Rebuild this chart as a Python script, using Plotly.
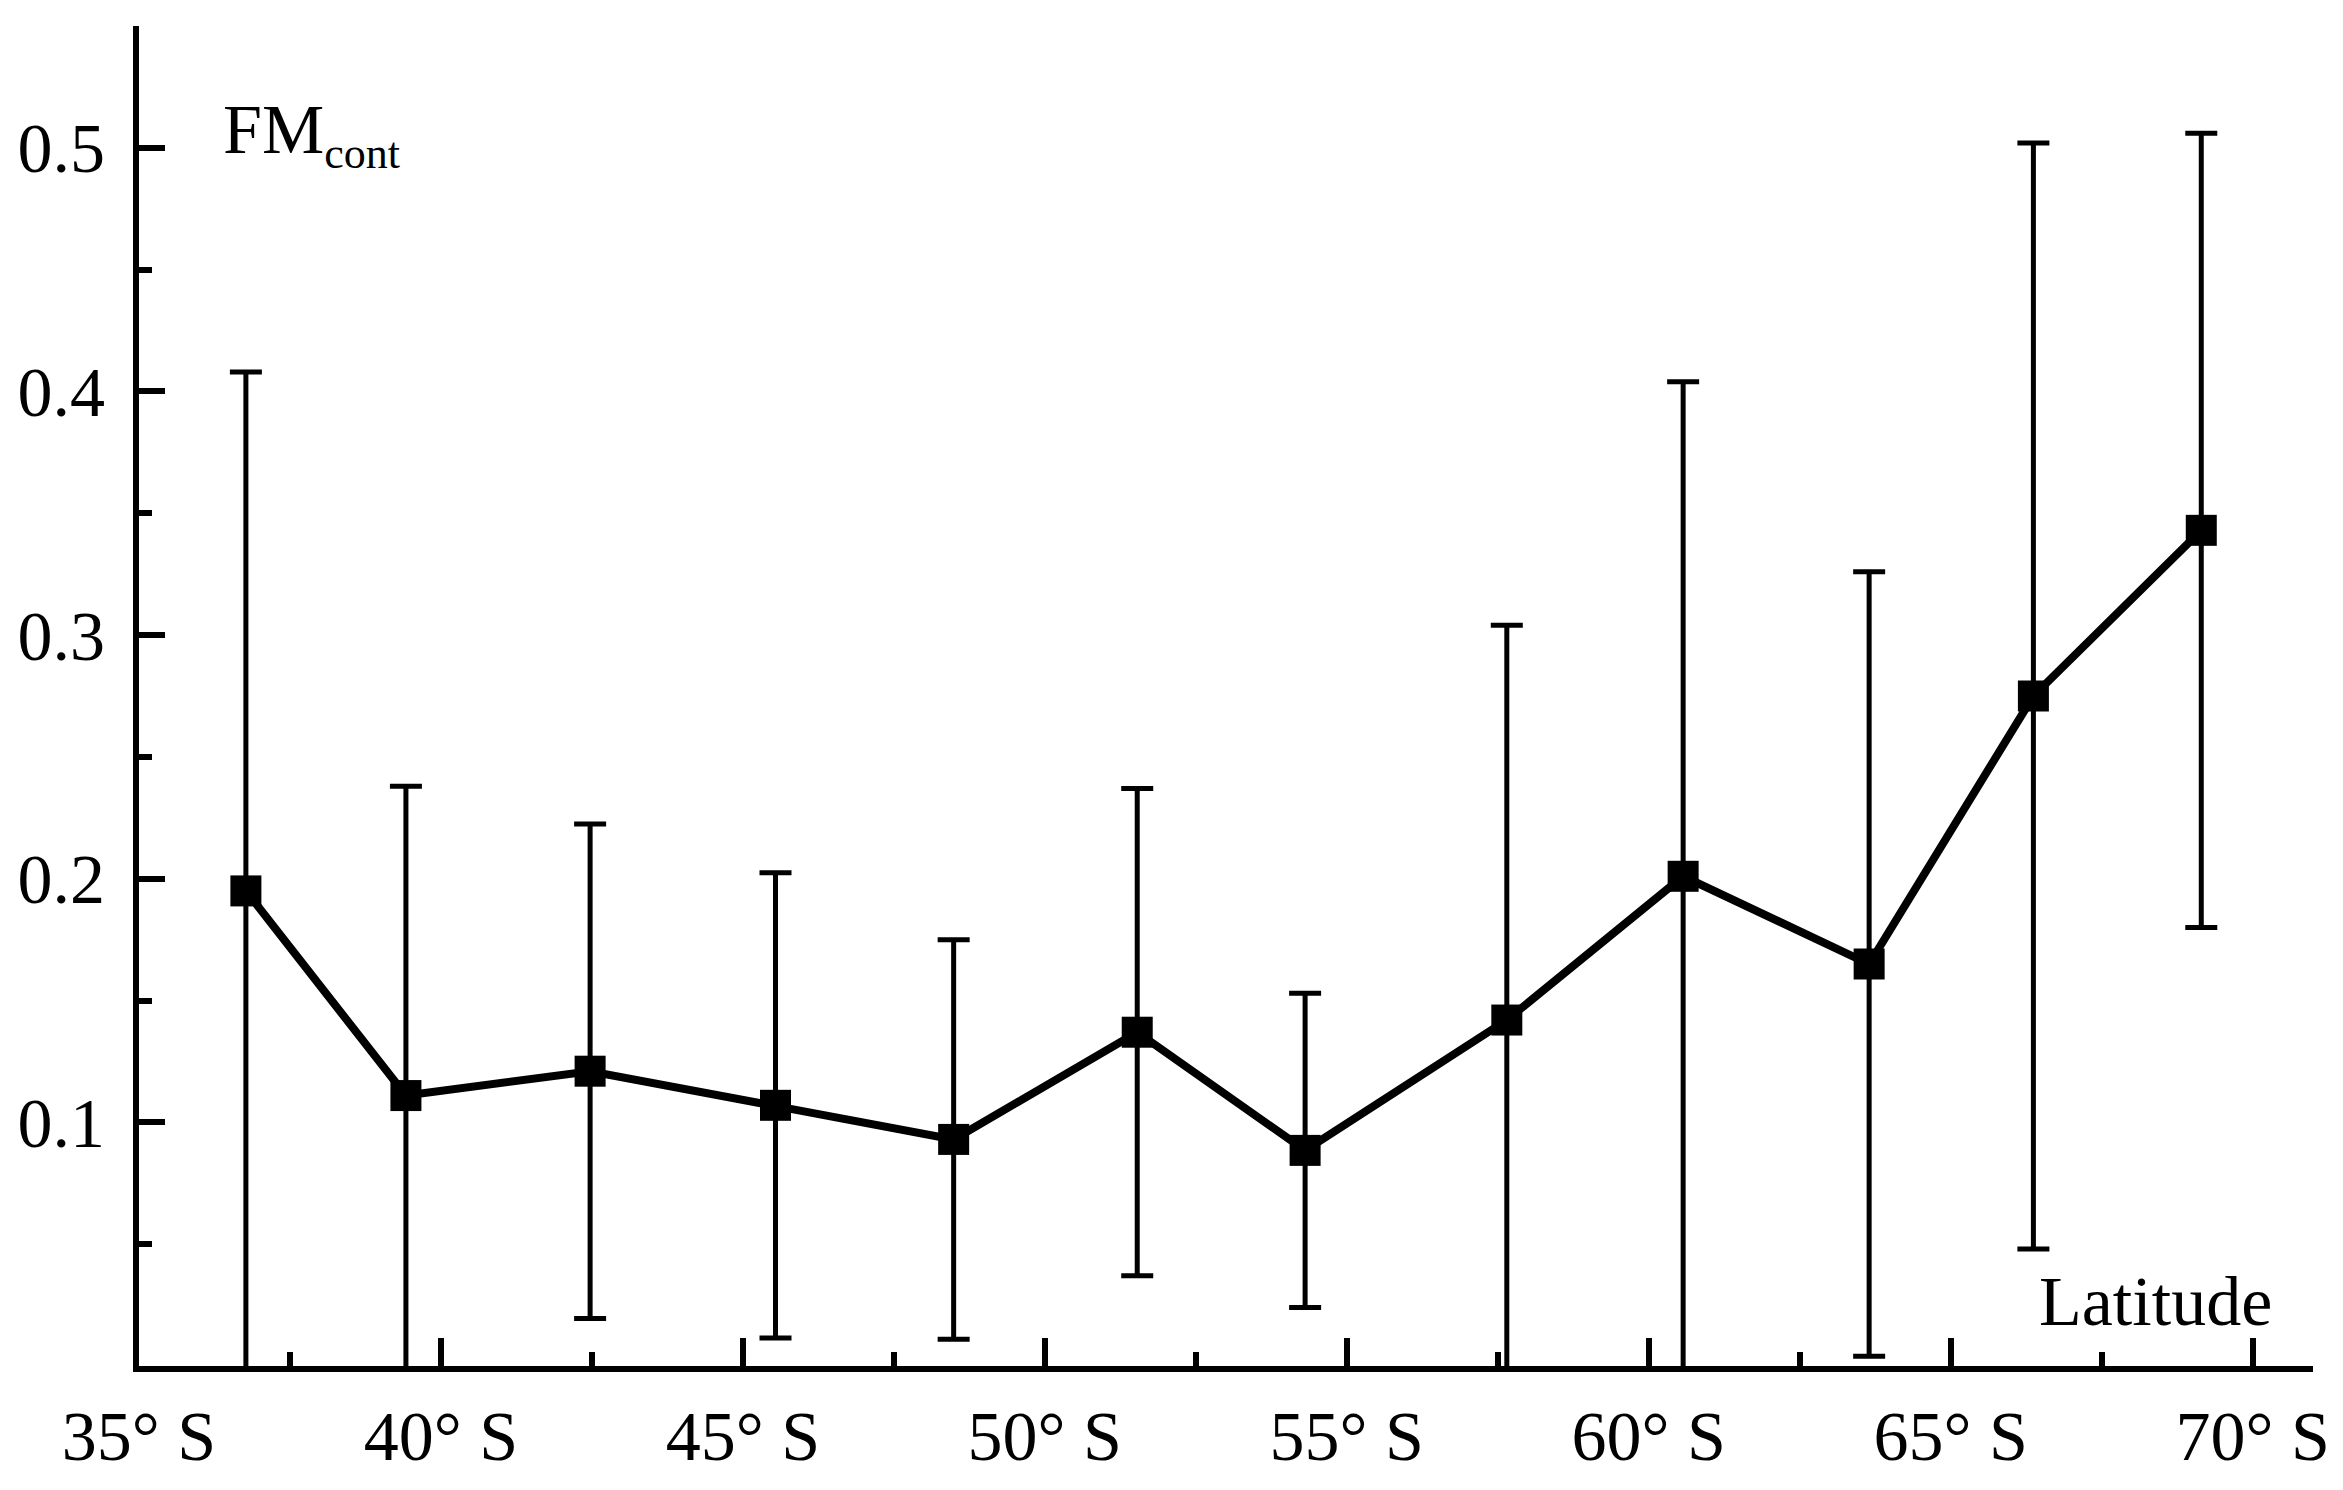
import plotly.graph_objects as go

# Data
latitude = [36.77, 39.42, 42.47, 45.54, 48.49, 51.53, 54.31, 57.65, 60.57, 63.65, 66.37, 69.15]
fm_cont = [0.195, 0.111, 0.121, 0.107, 0.093, 0.137, 0.0885, 0.142, 0.201, 0.165, 0.275, 0.343]
fm_err = [0.213, 0.127, 0.1015, 0.0955, 0.082, 0.100, 0.0645, 0.162, 0.203, 0.161, 0.227, 0.163]

x_tickvals = [35, 40, 45, 50, 55, 60, 65, 70]
x_ticktext = ["35° S", "40° S", "45° S", "50° S", "55° S", "60° S", "65° S", "70° S"]
y_tickvals = [0.1, 0.2, 0.3, 0.4, 0.5]
y_ticktext = ["0.1", "0.2", "0.3", "0.4", "0.5"]

FONT = "Liberation Serif"

fig = go.Figure()
fig.add_trace(go.Scatter(
    x=latitude, y=fm_cont, mode="lines+markers",
    line=dict(color="black", width=8),
    marker=dict(symbol="square", size=31, color="black"),
    error_y=dict(type="data", array=fm_err, visible=True,
                 color="black", thickness=5, width=16),
    showlegend=False,
))

# page body has an 8px default margin; figure is sized/margined to compensate
fig.update_layout(
    width=2327, height=1474,
    margin=dict(l=131, r=22, t=18, b=116),
    paper_bgcolor="white", plot_bgcolor="white",
    font=dict(family=FONT, size=70, color="black"),
    xaxis=dict(
        range=[35, 71], tickmode="array", tickvals=x_tickvals, ticktext=x_ticktext,
        automargin=False,
        showgrid=False, zeroline=False, showline=True, linecolor="black", linewidth=6,
        ticks="inside", ticklen=28, tickwidth=6, tickcolor="black",
        ticklabelstandoff=4,
        minor=dict(tickmode="linear", tick0=35, dtick=2.5, ticks="inside",
                   ticklen=14, tickwidth=6, tickcolor="black", showgrid=False),
        tickfont=dict(family=FONT, size=70, color="black"),
    ),
    yaxis=dict(
        range=[0, 0.55], tickmode="array", tickvals=y_tickvals, ticktext=y_ticktext,
        automargin=False,
        showgrid=False, zeroline=False, showline=True, linecolor="black", linewidth=6,
        ticks="inside", ticklen=26, tickwidth=6, tickcolor="black",
        ticklabelstandoff=14,
        minor=dict(tickmode="linear", tick0=0, dtick=0.05, ticks="inside",
                   ticklen=13, tickwidth=6, tickcolor="black", showgrid=False),
        tickfont=dict(family=FONT, size=70, color="black"),
    ),
    annotations=[
        dict(x=36.36, y=0.524, xref="x", yref="y",
             text="FM<sub><span style='font-size:44px'>cont</span></sub>",
             showarrow=False, xanchor="left", yanchor="top",
             font=dict(family=FONT, size=70, color="black")),
        dict(x=70.35, y=0.010, xref="x", yref="y", text="Latitude",
             showarrow=False, xanchor="right", yanchor="bottom",
             font=dict(family=FONT, size=70, color="black")),
    ],
)

fig.write_html("out.html")
